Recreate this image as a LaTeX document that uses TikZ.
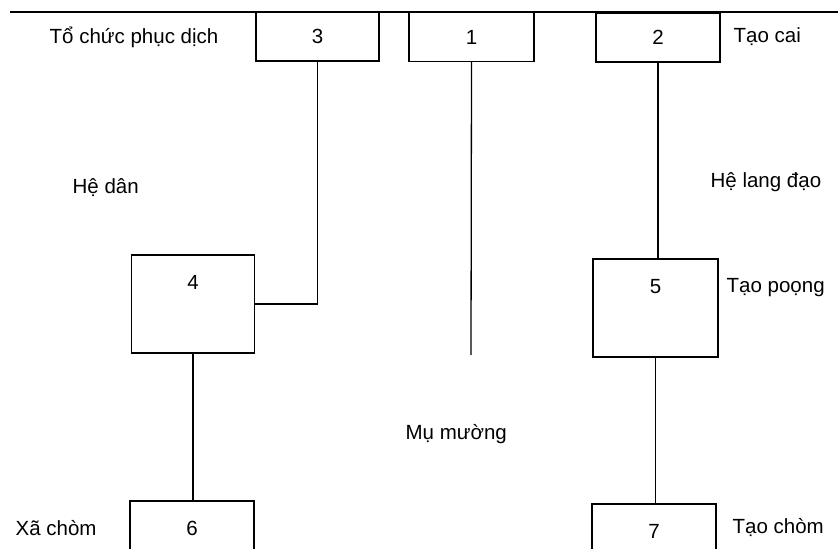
\documentclass[tikz,border=0pt]{standalone}
\usepackage{fontspec}
\setmainfont{Liberation Sans}
\usetikzlibrary{positioning}

\begin{document}
\begin{tikzpicture}[
      x=1bp, y=-1bp,
      font=\fontsize{20.5bp}{24bp}\selectfont,
      line width=1.3bp,
      unit/.style={draw, minimum width=124bp, inner sep=0pt},
      topunit/.style={unit, minimum height=49bp},
      bigunit/.style={unit, minimum width=123bp, minimum height=98bp},
      lowunit/.style={unit, minimum height=54bp},
      caption/.style={anchor=west, inner sep=0pt},
]
\useasboundingbox (0,0) rectangle (838,549);

% top rule
\coordinate (rule_start) at (10,12);
\coordinate (rule_end) at (838,12);
\draw (rule_start) -- (rule_end);

\node[topunit, minimum width=123bp] (unit_3) at (317.5,36.5) {3};
\node[topunit, minimum width=125bp] (unit_1) at (471.5,37) {1};
\node[topunit] (unit_2) at (658,37.5) {2};

\node[bigunit, label={[anchor=center, yshift=-28bp]north:4}] (unit_4) at (193,304) {};
\node[bigunit, minimum width=125bp, label={[anchor=center, yshift=-28bp]north:5}] (unit_5) at (655.5,308) {};

\node[lowunit] (unit_6) at (192,528) {6};
\node[lowunit] (unit_7) at (654,531) {7};

\node[caption] (to_chuc) at (49,37) {Tổ chức phục dịch};
\node[caption] (tao_cai) at (733,37) {Tạo cai};
\node[caption] (he_dan) at (72,188) {Hệ dân};
\node[caption] (he_lang_dao) at (710,182) {Hệ lang đạo};
\node[caption] (tao_poong) at (726,288) {Tạo poọng};
\node[caption] (mu_muong) at (405,434) {Mụ mường};
\node[caption] (xa_chom) at (15,528) {Xã chòm};
\node[caption] (tao_chom) at (732,528) {Tạo chòm};

\coordinate (unit_1_end) at (471,355);

\draw (unit_3.south) |- (unit_4.east);
\draw (unit_1.south) -- (unit_1_end);
\draw (unit_2.south) -- (unit_2.south |- unit_5.north);
\draw (unit_4.south) -- (unit_4.south |- unit_6.north);
\draw (unit_5.south) -- (unit_5.south |- unit_7.north);

\end{tikzpicture}
\end{document}
